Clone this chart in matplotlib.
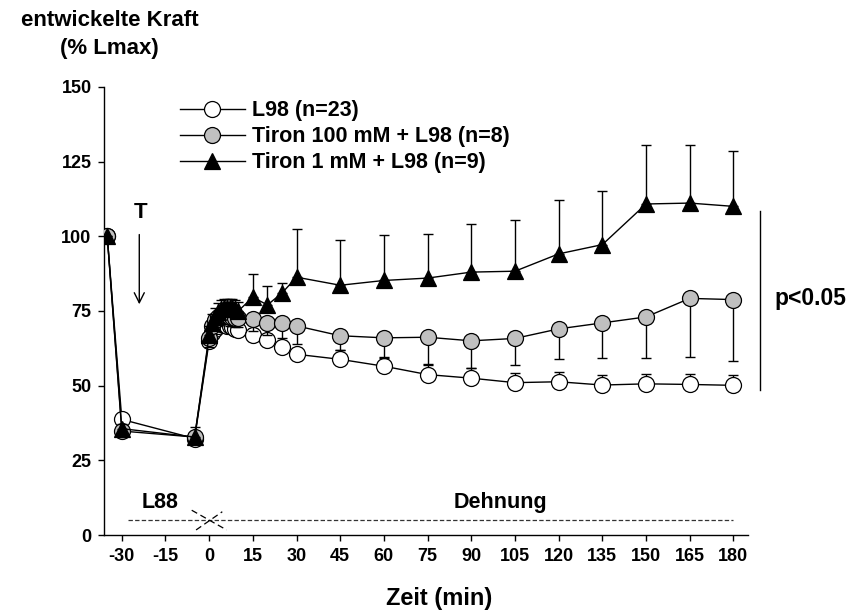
import matplotlib
matplotlib.use("Agg")
import matplotlib.pyplot as plt

plt.rcParams['font.family'] = ['Liberation Sans', 'DejaVu Sans']
plt.rcParams['font.weight'] = 'bold'
plt.rcParams['axes.unicode_minus'] = False

# Zeitpunkte (min)
zeit = [-35, -30, -5, 0, 1, 2, 3, 4, 5, 6, 7, 8, 9, 10,
        15, 20, 25, 30, 45, 60, 75, 90, 105, 120, 135, 150, 165, 180]

# L98 (n=23), Fehler nach oben
l98 = [100, 38.7, 32.3, 65, 67.5, 69, 70, 70.5, 70.5, 70, 70, 69.5, 69, 68.5,
       66.8, 65.2, 62.8, 60.5, 58.8, 56.5, 53.7, 52.5, 51.0, 51.3, 50.2, 50.6, 50.4, 50.1]
l98_err = [0, 1.5, 1.0, 2, 2, 2, 2, 2, 2, 2, 2, 2, 2, 2,
           2, 2, 2, 2.2, 3.2, 3.2, 3.3, 3.3, 3.3, 3.3, 3.5, 3.4, 3.4, 3.5]

# Tiron 100 mM + L98 (n=8), Fehler nach unten
tiron100 = [100, 34.8, 32.8, 66, 70, 72, 73, 73.5, 73.5, 73.5, 73, 73, 72.5, 72.5,
            72.2, 71.0, 71.0, 70.0, 66.7, 66.0, 66.2, 65.0, 65.8, 69.0, 71.0, 73.0, 79.2, 78.8]
tiron100_err = [0, 1.5, 1.5, 3, 3, 3, 3, 3, 3, 3, 3, 3, 3, 3,
                4, 4, 5, 6, 4.8, 6.8, 9, 9, 9, 10.2, 11.9, 13.7, 19.6, 20.4]

# Tiron 1 mM + L98 (n=9), Fehler nach oben
tiron1 = [100, 35.6, 32.8, 67, 71, 73, 74.5, 75.5, 76, 76, 76, 76, 75.5, 75,
          79.6, 77.0, 81.0, 86.3, 83.6, 85.2, 86.0, 88.0, 88.3, 94.1, 97.2, 110.8, 111.1, 110.0]
tiron1_err = [0, 1.5, 3.3, 3, 3, 3, 3, 3, 3, 3, 3, 3, 3, 3,
              7.6, 6.4, 3.4, 16.1, 15.2, 15.3, 14.8, 16, 17, 18.2, 18.1, 19.7, 19.4, 18.5]

xticks = [-30, -15, 0, 15, 30, 45, 60, 75, 90, 105, 120, 135, 150, 165, 180]
yticks = [0, 25, 50, 75, 100, 125, 150]

fig = plt.figure(figsize=(8.57, 6.13), dpi=100)
ax = fig.add_axes([0.1214, 0.1272, 0.7514, 0.7311])

zeros = [0] * len(zeit)

# Fehlerbalken (einseitig)
ax.errorbar(zeit, l98, yerr=[zeros, l98_err], fmt='none', ecolor='black',
            elinewidth=1, capsize=3.5, capthick=1, zorder=2)
ax.errorbar(zeit, tiron100, yerr=[tiron100_err, zeros], fmt='none', ecolor='black',
            elinewidth=1, capsize=3.5, capthick=1, zorder=3)
ax.errorbar(zeit, tiron1, yerr=[zeros, tiron1_err], fmt='none', ecolor='black',
            elinewidth=1, capsize=3.5, capthick=1, zorder=4)

h1, = ax.plot(zeit, l98, '-o', color='black', lw=1, ms=11.5, mfc='white',
              mec='black', mew=0.9, zorder=2.5, label='L98 (n=23)')
h2, = ax.plot(zeit, tiron100, '-o', color='black', lw=1, ms=11.5, mfc='#c0c0c0',
              mec='black', mew=0.9, zorder=3.5, label='Tiron 100 mM + L98 (n=8)')
h3, = ax.plot(zeit, tiron1, '-^', color='black', lw=1, ms=12, mfc='black',
              mec='black', mew=0.9, zorder=4.5, label='Tiron 1 mM + L98 (n=9)')

ax.legend(handles=[h1, h2, h3], loc='upper left', bbox_to_anchor=(0.118, 0.97),
          frameon=False, fontsize=15.5, handlelength=3.0, handletextpad=0.33,
          labelspacing=0.23, borderpad=0, borderaxespad=0, numpoints=1)

# Dehnungsprotokoll
ax.plot([-28, 180], [5, 5], ls=(0, (3.5, 1.8)), color='#333333', lw=0.9)
ax.plot([-6, 6], [8.3, 1.7], ls=(0, (5, 3)), color='black', lw=0.9)
ax.plot([-4.5, 4.5], [1.7, 7.8], ls=(0, (5, 3)), color='black', lw=0.9)
ax.text(-17, 11, 'L88', ha='center', va='center', fontsize=15.5)
ax.text(100, 11, 'Dehnung', ha='center', va='center', fontsize=15.5)

# Tiron-Zugabe
ax.text(-23.7, 108, 'T', ha='center', va='center', fontsize=16)
ax.annotate('', xy=(-24, 76.3), xytext=(-24, 101.5),
            arrowprops=dict(arrowstyle='->', color='black', lw=1, mutation_scale=18))

# Signifikanz
ax.plot([189, 189], [48.5, 108.5], color='black', lw=1, clip_on=False)
ax.text(194, 79, 'p<0.05', ha='left', va='center', fontsize=16.5)

ax.set_xlim(-36.1, 185)
ax.set_ylim(0, 150)
ax.set_xticks(xticks)
ax.set_yticks(yticks)
ax.tick_params(direction='out', length=4, width=1, labelsize=13, pad=5)
for s in ['top', 'right']:
    ax.spines[s].set_visible(False)
for s in ['left', 'bottom']:
    ax.spines[s].set_linewidth(1)

ax.set_xlabel('Zeit (min)', fontsize=17, fontweight='bold')
ax.xaxis.set_label_coords(0.52, -0.115)
fig.text(0.128, 0.966, 'entwickelte Kraft', ha='center', va='center', fontsize=16)
fig.text(0.128, 0.921, '(% Lmax)', ha='center', va='center', fontsize=16)

fig.savefig('out.png', dpi=100)
